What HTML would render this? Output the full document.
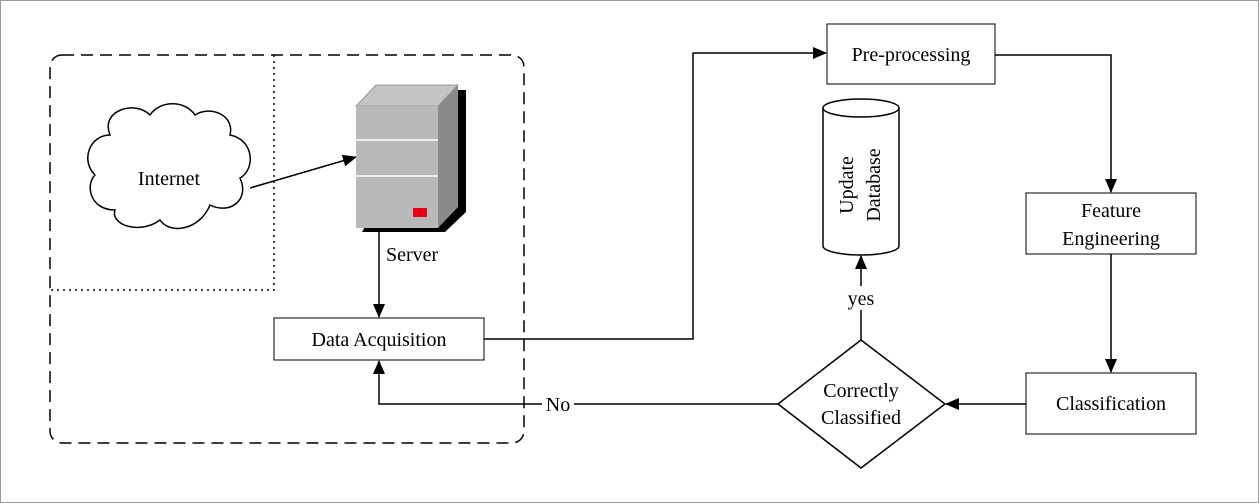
<!DOCTYPE html>
<html><head><meta charset="utf-8"><style>
body{margin:0;background:#fff}
svg{display:block}
text{font-family:"Liberation Serif",serif;font-size:20px;fill:#000}
</style></head><body>
<svg width="1259" height="503" viewBox="0 0 1259 503" xmlns="http://www.w3.org/2000/svg">
<defs>
<marker id="a" markerWidth="14" markerHeight="14" refX="13" refY="7" orient="auto" markerUnits="userSpaceOnUse"><path d="M0,1 L14,7 L0,13 z" fill="#000"/></marker>
<marker id="b" markerWidth="14" markerHeight="14" refX="13" refY="7" orient="auto" markerUnits="userSpaceOnUse"><path d="M0,1 L14,7 L0,13 z" fill="#000"/></marker>
</defs>
<rect x="0.5" y="0.5" width="1258" height="502" fill="#fff" stroke="#999"/>
<rect x="50" y="55" width="474" height="388" rx="12" fill="none" stroke="#000" stroke-width="1.5" stroke-dasharray="12,7"/>
<path d="M274,55 V290 H50" fill="none" stroke="#000" stroke-width="1.5" stroke-dasharray="2,4"/>
<path d="M110,135 C100,110 135,100 150,115 C160,100 185,100 195,115 C210,105 235,115 230,135 C255,140 255,170 240,178 C250,200 230,215 210,205 C200,230 170,235 160,220 C140,235 110,225 115,210 C90,210 85,185 95,175 C80,160 90,135 110,135 Z" fill="#fff" stroke="#000" stroke-width="1.5"/>
<text x="169" y="185" text-anchor="middle">Internet</text>
<line x1="250" y1="188" x2="356" y2="157" stroke="#000" stroke-width="1.5" marker-end="url(#b)"/>
<path d="M362,232 H445 L466,212 V90 H440 Z" fill="#000"/>
<path d="M356,106 L376,85 H458 L438,106 Z" fill="#c4c4c4" stroke="#999"/>
<path d="M438,106 L458,85 V207 L438,228 Z" fill="#8a8a8a"/>
<rect x="356" y="106" width="82" height="122" fill="#b9b9b9"/>
<line x1="356" y1="140" x2="438" y2="140" stroke="#eee" stroke-width="2"/>
<line x1="356" y1="176" x2="438" y2="176" stroke="#eee" stroke-width="2"/>
<rect x="413" y="208" width="14" height="9" fill="#e8001a"/>
<text x="386" y="261">Server</text>
<line x1="379" y1="232" x2="379" y2="317" stroke="#000" stroke-width="1.5" marker-end="url(#a)"/>
<rect x="274" y="318" width="210" height="42" fill="#fff" stroke="#000"/>
<text x="379" y="346" text-anchor="middle">Data Acquisition</text>
<polyline points="484,339 693,339 693,53 826,53" fill="none" stroke="#000" stroke-width="1.5" marker-end="url(#a)"/>
<rect x="827" y="24" width="168" height="60" fill="#fff" stroke="#000"/>
<text x="911" y="61" text-anchor="middle">Pre-processing</text>
<polyline points="995,55 1111,55 1111,192" fill="none" stroke="#000" stroke-width="1.5" marker-end="url(#a)"/>
<rect x="1026" y="193" width="170" height="61" fill="#fff" stroke="#000"/>
<text x="1111" y="217" text-anchor="middle">Feature</text>
<text x="1111" y="245" text-anchor="middle">Engineering</text>
<line x1="1111" y1="254" x2="1111" y2="372" stroke="#000" stroke-width="1.5" marker-end="url(#a)"/>
<rect x="1026" y="373" width="170" height="61" fill="#fff" stroke="#000"/>
<text x="1111" y="410" text-anchor="middle">Classification</text>
<line x1="1026" y1="404" x2="946" y2="404" stroke="#000" stroke-width="1.5" marker-end="url(#a)"/>
<polygon points="861,340 945,404 861,468 778,404" fill="#fff" stroke="#000" stroke-width="1.5"/>
<text x="861" y="397" text-anchor="middle">Correctly</text>
<text x="861" y="424" text-anchor="middle">Classified</text>
<polyline points="778,404 379,404 379,361" fill="none" stroke="#000" stroke-width="1.5" marker-end="url(#a)"/>
<rect x="542" y="393" width="32" height="22" fill="#fff"/>
<text x="558" y="411" text-anchor="middle">No</text>
<line x1="861" y1="340" x2="861" y2="256" stroke="#000" stroke-width="1.5" marker-end="url(#a)"/>
<rect x="842" y="286" width="38" height="24" fill="#fff"/>
<text x="861" y="305" text-anchor="middle">yes</text>
<path d="M823,108 V246 A38,9 0 0 0 899,246 V108" fill="#fff" stroke="#000" stroke-width="1.5"/>
<ellipse cx="861" cy="108" rx="38" ry="9" fill="#fff" stroke="#000" stroke-width="1.5"/>
<text transform="translate(853,185) rotate(-90)" text-anchor="middle">Update</text>
<text transform="translate(880,185) rotate(-90)" text-anchor="middle">Database</text>
</svg>
</body></html>
